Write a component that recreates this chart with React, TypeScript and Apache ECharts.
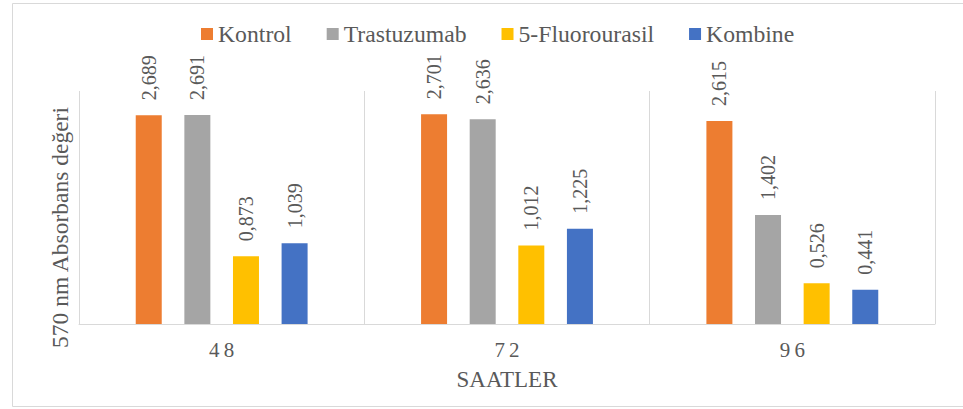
import React, { useEffect, useRef } from "react";
import * as echarts from "echarts";

const categories = ["48", "72", "96"];
const seriesNames = ["Kontrol", "Trastuzumab", "5-Fluorourasil", "Kombine"];
const kontrol = [2.689, 2.701, 2.615];
const trastuzumab = [2.691, 2.636, 1.402];
const fluorourasil = [0.873, 1.012, 0.526];
const kombine = [1.039, 1.225, 0.441];
const colors = ["#ED7D31", "#A5A5A5", "#FFC000", "#4472C4"];

const FONT = "Liberation Serif";
const TEXT = "#595959";

export default function App() {
  const ref = useRef<HTMLDivElement>(null);
  useEffect(() => {
    if (!ref.current) return;
    const chart = echarts.init(ref.current, undefined, { renderer: "svg" });
    const values = [kontrol, trastuzumab, fluorourasil, kombine];
    chart.setOption({
      animation: false,
      textStyle: { fontFamily: FONT },
      graphic: [
        {
          type: "rect",
          shape: { x: 12.5, y: 3.5, width: 960, height: 403 },
          style: { fill: "none", stroke: "#d9d9d9", lineWidth: 1 },
          silent: true,
        },
      ],
      legend: {
        top: 17,
        left: 196,
        itemWidth: 12,
        itemHeight: 12,
        itemGap: 35,
        icon: "rect",
        data: seriesNames,
        textStyle: { fontFamily: FONT, fontSize: 23.7, color: TEXT },
      },
      grid: { left: 79, right: 28, top: 91, bottom: 85, containLabel: false },
      xAxis: {
        type: "category",
        data: categories,
        name: "SAATLER",
        nameLocation: "middle",
        nameGap: 44,
        nameTextStyle: { fontFamily: FONT, fontSize: 23, color: TEXT },
        axisLine: { lineStyle: { color: "#d9d9d9", width: 1 } },
        axisTick: { show: false },
        splitLine: { show: true, interval: 0, lineStyle: { color: "#d9d9d9", width: 1 } },
        axisLabel: {
          fontFamily: FONT,
          fontSize: 21,
          color: TEXT,
          margin: 15,
          formatter: (v: string) => v.split("").join("\u2009"),
        },
      },
      yAxis: {
        type: "value",
        min: 0,
        max: 3,
        name: "570 nm Absorbans değeri",
        nameLocation: "middle",
        nameGap: 7,
        nameTextStyle: { fontFamily: FONT, fontSize: 23.5, color: TEXT, padding: [0, 40, 0, 0] },
        axisLabel: { show: false },
        axisLine: { show: false },
        axisTick: { show: false },
        splitLine: { show: false },
      },
      series: seriesNames.map((name, i) => ({
        name,
        type: "bar",
        data: values[i],
        barWidth: 26,
        barGap: "87%",
        itemStyle: { color: colors[i] },
        label: {
          show: true,
          position: "top",
          rotate: 90,
          align: "left",
          verticalAlign: "middle",
          distance: 15,
          fontFamily: FONT,
          fontSize: 20,
          color: TEXT,
          formatter: (p: any) => Number(p.value).toFixed(3).replace(".", ","),
        },
      })),
    });
    return () => chart.dispose();
  }, []);
  return (
    <div
      ref={ref}
      style={{ position: "absolute", left: 0, top: 0, width: 963, height: 409 }}
    />
  );
}
